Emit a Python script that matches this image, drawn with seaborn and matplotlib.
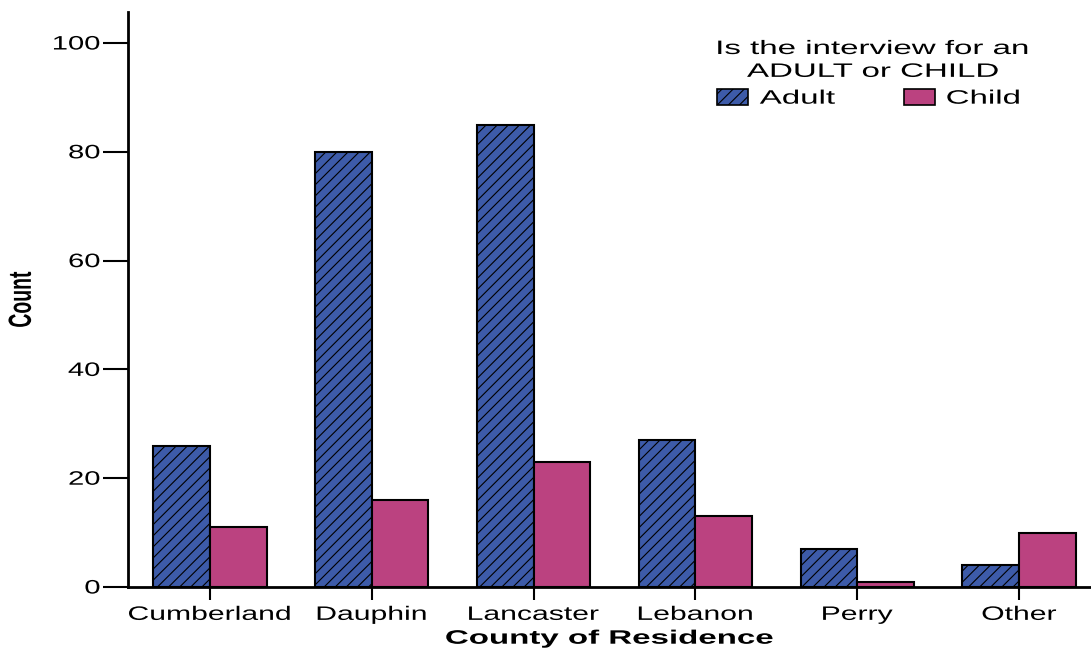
import matplotlib
matplotlib.use("Agg")
import matplotlib.pyplot as plt
import matplotlib.patheffects as pe
from matplotlib.transforms import Affine2D
import seaborn as sns
import pandas as pd
from matplotlib.patches import Patch

counties = ["Cumberland", "Dauphin", "Lancaster", "Lebanon", "Perry", "Other"]
adult = [26, 80, 85, 27, 7, 4]
child = [11, 16, 23, 13, 1, 10]
groups = ["Adult", "Child"]
yticks = [0, 20, 40, 60, 80, 100]

df = pd.DataFrame({
    "county": counties * 2,
    "group": ["Adult"] * len(counties) + ["Child"] * len(counties),
    "count": adult + child,
})

sns.set_style("white")
plt.rcParams["font.family"] = ["Liberation Sans", "DejaVu Sans"]
plt.rcParams["hatch.linewidth"] = 0.8
for k in ["text.color", "axes.labelcolor", "xtick.color", "ytick.color"]:
    plt.rcParams[k] = "black"


class HStretch(pe.AbstractPathEffect):
    """Widen glyphs horizontally (the reference font is drawn stretched)."""

    def __init__(self, sx=1.65, anchor="center", dx=0.0):
        super().__init__()
        self.sx = sx
        self.anchor = anchor
        self.dx = dx

    def draw_path(self, renderer, gc, tpath, affine, rgbFace=None):
        ext = tpath.get_extents(affine)
        if self.anchor == "left":
            x0 = ext.x0
        elif self.anchor == "right":
            x0 = ext.x1
        else:
            x0 = 0.5 * (ext.x0 + ext.x1)
        tr = affine + Affine2D().translate(-x0, 0).scale(self.sx, 1.0).translate(x0 + self.dx, 0)
        renderer.draw_path(gc, tpath, tr, rgbFace)


blue = "#3D5BA9"
pink = "#BB4280"
FS = 14

fig = plt.figure(figsize=(10.91, 6.5), dpi=100)
ax = fig.add_axes([128 / 1091, 1 - 587 / 650, 1 - 128 / 1091, (587 - 12) / 650])

sns.barplot(data=df, x="county", y="count", hue="group", order=counties,
            hue_order=groups, palette=[blue, pink], width=0.7, saturation=1,
            edgecolor="black", linewidth=1.5, ax=ax, legend=False, zorder=3)

for bar in ax.containers[0]:
    bar.set_hatch("///")

ax.set_xlim(-0.506, 5.444)
ax.set_ylim(0, 105.7)
ax.set_yticks(yticks)
ax.set_yticklabels([str(v) for v in yticks], fontsize=FS)
ax.tick_params(axis="y", direction="out", length=18, width=1.5, pad=2, left=True)
ax.tick_params(axis="x", direction="out", length=9.5, width=1.5, pad=4.8, bottom=True,
               labelsize=FS)

for s in ["top", "right"]:
    ax.spines[s].set_visible(False)
for s in ["left", "bottom"]:
    ax.spines[s].set_linewidth(2.0)
    ax.spines[s].set_color("black")

ax.set_xlabel("County of Residence", fontsize=FS, fontweight="bold")
ax.xaxis.set_label_coords(0.5, -0.076)
ax.set_ylabel("Count", fontsize=FS, fontweight="bold")
ax.yaxis.label.set_verticalalignment("center")
ax.yaxis.set_label_coords((22 - 128) / 963, 0.5)

handles = [Patch(facecolor=blue, edgecolor="black", hatch="///", linewidth=1.2, label="Adult"),
           Patch(facecolor=pink, edgecolor="black", linewidth=1.2, label="Child")]
leg = ax.legend(handles=handles, title="Is the interview for an\nADULT or CHILD",
                ncol=2, frameon=False, fontsize=FS, title_fontsize=FS,
                loc="upper left",
                bbox_to_anchor=((717 - 128) / 963, (587 - 41) / 575),
                borderpad=0, borderaxespad=0, labelspacing=0.3,
                columnspacing=5.1, handlelength=1.6, handleheight=0.85,
                handletextpad=0.6)
leg.get_title().set_multialignment("center")
leg.get_title().set_linespacing(1.45)
leg._legend_box.sep = 6

fig.canvas.draw()
for t in ax.get_xticklabels():
    t.set_path_effects([HStretch(1.55, "center")])
for t in ax.get_yticklabels():
    t.set_path_effects([HStretch(1.5, "right")])
ax.xaxis.label.set_path_effects([HStretch(1.7, "center")])
ax.yaxis.label.set_path_effects([HStretch(1.65, "center")])
for t in leg.get_texts():
    t.set_path_effects([HStretch(1.7, "left")])
leg.get_title().set_path_effects([HStretch(1.7, "center", dx=19)])

fig.savefig("out.png", dpi=100)
